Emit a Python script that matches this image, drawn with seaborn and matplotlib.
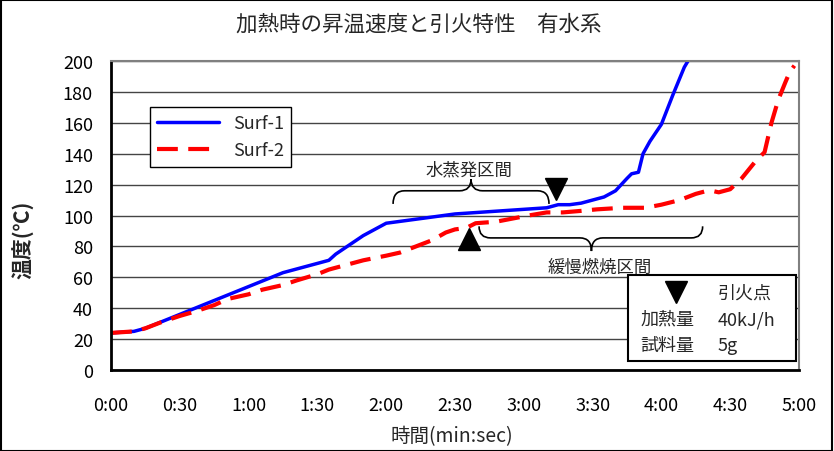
import matplotlib
matplotlib.use("Agg")
import matplotlib.pyplot as plt
from matplotlib.path import Path
from matplotlib.patches import PathPatch, Rectangle
import seaborn as sns
import pandas as pd

# Surf-1 (blue, solid): time in seconds, temperature in degC
t1 = [0, 5, 10, 15, 20, 25, 30, 35, 40, 45, 50, 55, 60, 65, 70, 75, 80, 85, 90, 95,
      98, 100, 105, 110, 115, 120, 125, 130, 135, 140, 145, 150, 160, 170, 180, 190,
      195, 200, 205, 210, 215, 220, 225, 227, 230, 232, 235, 240, 245, 250, 252]
temp1 = [24, 24.5, 25, 27, 30, 33, 36, 39, 42, 45, 48, 51, 54, 57, 60, 63, 65, 67, 69, 71,
         75, 77, 82, 87, 91, 95, 96, 97, 98, 99, 100, 101, 102, 103, 104, 105,
         107, 107, 108, 110, 112, 116, 124, 127, 128, 140, 148, 159, 178, 196, 201]

# Surf-2 (red, dashed)
t2 = [0, 10, 15, 22, 30, 37, 45, 51, 60, 66, 75, 81, 90, 95, 100, 110, 120, 126, 133,
      140, 146, 150, 155, 159, 168, 175, 182, 190, 197, 205, 212, 223, 233, 240, 248,
      255, 260, 262, 265, 270, 275, 281, 285, 288, 291, 294, 296, 298]
temp2 = [24, 25, 27, 31, 35, 38, 42, 46, 49, 52, 55, 58, 62, 65, 67, 71, 74, 76, 80,
         84, 89, 91, 92, 95, 96, 98, 100, 102, 102, 103, 104, 105, 105, 107, 110,
         114, 116, 116, 115, 117, 124, 135, 141, 160, 175, 186, 193, 197]

xticks = list(range(0, 301, 30))
xlabels = ["0:00", "0:30", "1:00", "1:30", "2:00", "2:30", "3:00", "3:30", "4:00", "4:30", "5:00"]
yticks = list(range(0, 201, 20))

sns.set_style("white")
plt.rcParams["font.family"] = ["Noto Sans CJK JP", "DejaVu Sans"]

fig = plt.figure(figsize=(8.34, 4.52), dpi=100)
ax = fig.add_axes([0.1331, 0.1792, 0.8249, 0.6836])

df1 = pd.DataFrame({"t": t1, "temp": temp1})
df2 = pd.DataFrame({"t": t2, "temp": temp2})
sns.lineplot(data=df1, x="t", y="temp", ax=ax, color="#0000ff", lw=2.5, label="Surf-1")
sns.lineplot(data=df2, x="t", y="temp", ax=ax, color="#ff0000", lw=3, label="Surf-2",
             dashes=False, linestyle=(0, (5, 2.5)))

ax.set_xlim(0, 300)
ax.set_ylim(0, 200)
ax.set_xticks(xticks)
ax.set_xticklabels(xlabels)
ax.set_xticks(range(0, 301, 10), minor=True)
ax.set_yticks(yticks)
ax.tick_params(axis="both", which="both", direction="in", length=6, width=1, colors="black",
               labelsize=13)
ax.tick_params(axis="x", which="major", pad=19)
ax.tick_params(axis="y", pad=13)
ax.yaxis.grid(True, color="#444444", lw=1)
ax.set_axisbelow(True)
for s in ["left", "bottom"]:
    ax.spines[s].set_color("black")
    ax.spines[s].set_linewidth(2)
for s in ["top", "right"]:
    ax.spines[s].set_color("#808080")
    ax.spines[s].set_linewidth(1.5)
ax.set_xlabel("")
ax.set_ylabel("")

fig.text(0.502, 0.945, "加熱時の昇温速度と引火特性　有水系", ha="center", va="center", fontsize=15.5)
fig.text(0.028, 0.47, "温度(℃)", rotation=90, ha="center", va="center", fontsize=15, fontweight="bold")
fig.text(0.542, 0.033, "時間(min:sec)", ha="center", va="center", fontsize=14)

leg = ax.legend(loc="upper left", bbox_to_anchor=(0.057, 0.851), fancybox=False, framealpha=1,
                edgecolor="black", fontsize=13, handlelength=3.4, borderpad=0.4,
                labelspacing=0.5, borderaxespad=0)
leg.get_frame().set_linewidth(1)


def brace(x0, x1, xm, y_end, y_mid, y_tip, r):
    verts = [(x0, y_end), (x0, y_mid), (x0 + r, y_mid),
             (xm - r, y_mid), (xm, y_mid), (xm, y_tip),
             (xm, y_mid), (xm + r, y_mid),
             (x1 - r, y_mid), (x1, y_mid), (x1, y_end)]
    codes = [Path.MOVETO, Path.CURVE3, Path.CURVE3,
             Path.LINETO, Path.CURVE3, Path.CURVE3,
             Path.CURVE3, Path.CURVE3,
             Path.LINETO, Path.CURVE3, Path.CURVE3]
    ax.add_patch(PathPatch(Path(verts, codes), fill=False, edgecolor="black", lw=1.2, zorder=4))


brace(123, 191, 157, 107.5, 116, 123.5, 5)
ax.text(156, 130, "水蒸発区間", ha="center", va="center", fontsize=12.5)
brace(160.5, 258, 209.5, 93, 85.5, 77, 5)
ax.text(213, 66.5, "緩慢燃焼区間", ha="center", va="center", fontsize=12.5)

ax.plot([194], [117], marker="v", ms=16, color="black", zorder=5)
ax.plot([156], [85], marker="^", ms=16, color="black", zorder=5)

ax.add_patch(Rectangle((0.751, 0.029), 0.245, 0.278, transform=ax.transAxes, facecolor="white",
                       edgecolor="black", lw=1.5, zorder=6))
ax.plot([0.821], [0.252], marker="v", ms=16, color="black", transform=ax.transAxes, zorder=7,
        clip_on=False)
ax.text(0.9215, 0.252, "引火点", transform=ax.transAxes, ha="center", va="center", fontsize=13, zorder=7)
ax.text(0.769, 0.165, "加熱量", transform=ax.transAxes, ha="left", va="center", fontsize=13, zorder=7)
ax.text(0.882, 0.165, "40kJ/h", transform=ax.transAxes, ha="left", va="center", fontsize=13, zorder=7)
ax.text(0.769, 0.081, "試料量", transform=ax.transAxes, ha="left", va="center", fontsize=13, zorder=7)
ax.text(0.882, 0.081, "5g", transform=ax.transAxes, ha="left", va="center", fontsize=13, zorder=7)

fig.patches.append(Rectangle((0.001, 0.001), 0.997, 0.997, transform=fig.transFigure, fill=False,
                             edgecolor="black", lw=1.5))

fig.savefig("out.png", dpi=100)
